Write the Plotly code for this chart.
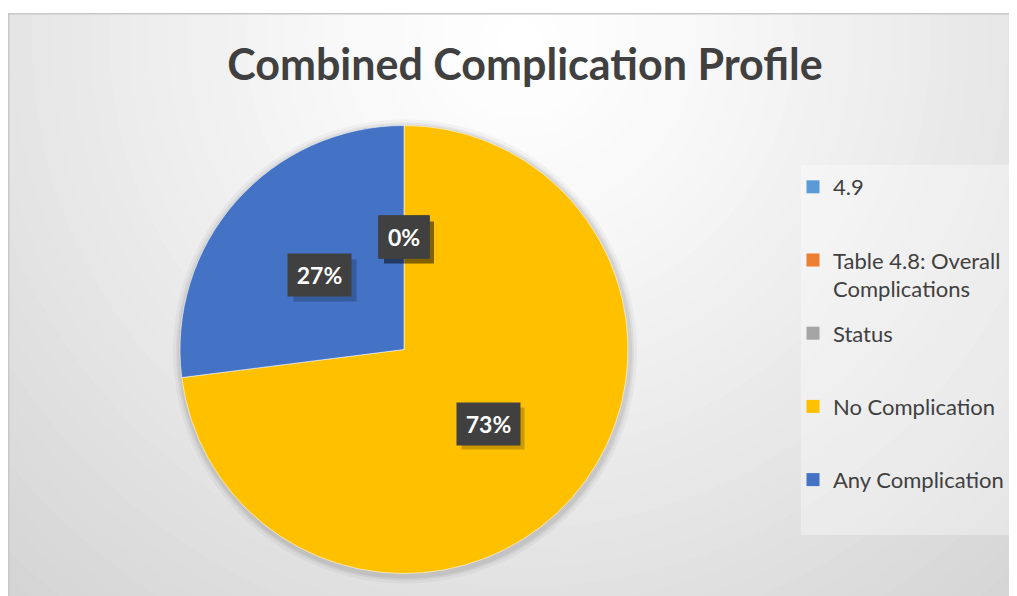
import plotly.graph_objects as go
import math

# ---- data ----
labels = ["4.9", "Table 4.8: Overall Complications", "Status", "No Complication", "Any Complication"]
legend_text = ["4.9", "Table 4.8: Overall<br>Complications", "Status", "No Complication", "Any Complication"]
values = [0, 0, 0, 73, 27]
colors = ["#5B9BD5", "#ED7D31", "#A5A5A5", "#FFC000", "#4472C4"]
title_text = "Combined Complication Profile"

W, H = 1017, 596
OFF = 8  # page body margin
FONT = "Lato"


def fx(px):
    return (px - OFF) / W


def fy(py):
    return 1 - (py - OFF) / H


# pie geometry (page pixels)
cx, cy, R = 404, 349.5, 224
dom_x = [fx(cx - R), fx(cx + R)]
dom_y = [fy(cy + R), fy(cy - R)]

fig = go.Figure()
fig.add_trace(go.Pie(
    labels=labels, values=values, sort=False, direction="clockwise", rotation=0,
    marker=dict(colors=colors, line=dict(color="rgba(255,255,255,0.7)", width=0.8)),
    textinfo="none", hoverinfo="label+percent", domain=dict(x=dom_x, y=dom_y),
    showlegend=False,
))

# legend entries (one per category, same colours as slices)
for lab, txt, col in zip(labels, legend_text, colors):
    t = txt if "<br>" in txt else txt + "<br> "
    fig.add_trace(go.Scatter(x=[None], y=[None], mode="markers", name=t, legendgroup=lab,
                             marker=dict(symbol="square", size=13, color=col), hoverinfo="skip"))

shapes = []
# radial gradient background
gcx, gcy = 520, 40
maxd = 820
n = 42
for i in range(n):
    r = maxd * (1 - i / n)
    t = min(r / 770, 1)
    c = int(round(255 - 44 * t ** 1.3))
    shapes.append(dict(type="circle", xref="paper", yref="paper", layer="below",
                       x0=fx(gcx - r), x1=fx(gcx + r), y0=fy(gcy + r), y1=fy(gcy - r),
                       fillcolor=f"rgb({c},{c},{c})", line=dict(width=0)))
# white top strip
shapes.append(dict(type="rect", xref="paper", yref="paper", layer="below", x0=-0.1, x1=1.1, y0=fy(13), y1=1.1,
                   fillcolor="white", line=dict(width=0)))
# chart frame lines
shapes.append(dict(type="line", xref="paper", yref="paper", layer="below", x0=fx(8.7), x1=fx(8.7), y0=-0.1, y1=fy(13),
                   line=dict(color="#c8c8c8", width=1.5)))
shapes.append(dict(type="line", xref="paper", yref="paper", layer="below", x0=fx(8), x1=1.1, y0=fy(13.7), y1=fy(13.7),
                   line=dict(color="#c8c8c8", width=1.5)))
# legend panel
shapes.append(dict(type="rect", xref="paper", yref="paper", layer="below",
                   x0=fx(801), x1=fx(1015), y0=fy(535), y1=fy(165),
                   fillcolor="rgba(255,255,255,0.35)", line=dict(width=0)))
# soft pie shadow
for k, a in [(8, 0.035), (5, 0.05), (3, 0.06)]:
    shapes.append(dict(type="circle", xref="paper", yref="paper", layer="below",
                       x0=fx(cx - R - k + 1), x1=fx(cx + R + k + 1),
                       y0=fy(cy + R + k + 2), y1=fy(cy - R - k + 2),
                       fillcolor=f"rgba(0,0,0,{a})", line=dict(width=0)))

# data labels at half radius of each slice's mid angle
annotations = []
total = sum(values)
cum = 0
for v in values:
    mid = (cum + v / 2) / total * 2 * math.pi
    cum += v
    px = cx + 0.5 * R * math.sin(mid)
    py = cy - 0.5 * R * math.cos(mid)
    s = f"{round(v / total * 100)}%"
    bw = 13 * len(s) + 24
    bh = 42
    shapes.append(dict(type="rect", xref="paper", yref="paper", layer="above",
                       xsizemode="pixel", ysizemode="pixel", xanchor=fx(px), yanchor=fy(py),
                       x0=-bw / 2 + 5, x1=bw / 2 + 5, y0=-bh / 2 - 5, y1=bh / 2 - 5,
                       fillcolor="rgba(0,0,0,0.2)", line=dict(width=0)))
    annotations.append(dict(x=fx(px), y=fy(py), xref="paper", yref="paper", showarrow=False,
                            xanchor="center", yanchor="middle",
                            text=f"<b>{s}</b>", font=dict(color="white", size=23, family=FONT),
                            bgcolor="#404040", borderpad=9, width=bw - 18, height=bh - 18))

fig.update_layout(
    width=W, height=H,
    margin=dict(l=0, r=0, t=0, b=0),
    paper_bgcolor="white", plot_bgcolor="rgba(0,0,0,0)",
    xaxis=dict(visible=False), yaxis=dict(visible=False),
    title=dict(text=f"<b>{title_text}</b>", x=fx(525), xanchor="center", y=fy(65), yanchor="middle",
               font=dict(family=FONT, size=43, color="#404040")),
    legend=dict(x=fx(793), xanchor="left", y=fy(166), yanchor="top", valign="top",
                font=dict(family=FONT, size=22, color="#404040"), bgcolor="rgba(0,0,0,0)",
                tracegroupgap=13, itemclick=False, itemdoubleclick=False),
    shapes=shapes, annotations=annotations,
)

fig.write_html("out.html")
